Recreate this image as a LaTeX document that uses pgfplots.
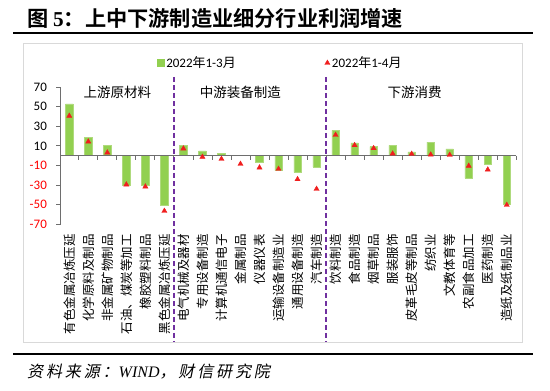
\documentclass[border=0pt]{standalone}
\usepackage{pgfplots}
\pgfplotsset{compat=1.18}
\usepackage{fontspec}
\setmainfont{Carlito}
\newfontfamily\cjk{Noto Sans CJK SC}
\newfontfamily\cjkb{Noto Sans CJK SC Bold}
\newfontfamily\cjkit{Noto Sans CJK SC}[FakeSlant=0.2,LetterSpace=18]
\newfontfamily\tnr{Liberation Serif}
\definecolor{barg}{RGB}{146,208,80}
\definecolor{bare}{RGB}{175,218,125}
\definecolor{tri}{RGB}{240,30,30}
\definecolor{purp}{RGB}{112,48,160}
\definecolor{axc}{RGB}{110,110,110}
\definecolor{frm}{RGB}{217,217,217}
\begin{document}
\begin{tikzpicture}[x=1pt,y=1pt]
\useasboundingbox (0,0) rectangle (550,391);
\node[anchor=west,inner sep=0] at (27,373) {\fontsize{21.2}{24}\selectfont\cjkb 图 {\tnr\bfseries 5}：上中下游制造业细分行业利润增速};
\draw[line width=2pt] (13,357.7) -- (533,357.7);
\draw[frm, line width=0.8pt] (23,348) rectangle (522,49);
\draw[line width=2pt] (13,37) -- (533,37);
\node[anchor=west,inner sep=0] at (27,19.3) {\fontsize{16}{18}\selectfont\cjkit 资料来源：{\tnr\itshape WIND}，财信研究院};
\begin{axis}[
  at={(60.9pt,166.7pt)}, anchor=south west, scale only axis,
  width=455.4pt, height=137.3pt,
  xmin=-0.44, xmax=23.5, ymin=-70, ymax=70,
  axis y line*=left, axis x line*=bottom,
  x axis line style={draw=none},
  y axis line style={axc, line width=0.8pt},
  tick align=outside, major tick length=4.5pt,
  ytick={-70,-50,...,70},
  yticklabels={{\color{red}-70},{\color{red}-50},{\color{red}-30},{\color{red}-10},10,30,50,70},
  ytick style={axc, line width=0.8pt},
  yticklabel style={font=\fontsize{13}{15}\selectfont},
  yticklabel shift=6pt,
  xtick={0,...,23},
  xticklabels={有色金属冶炼压延,化学原料及制品,非金属矿物制品,石油、煤炭等加工,橡胶塑料制品,黑色金属冶炼压延,电气机械及器材,专用设备制造,计算机通信电子,金属制品,仪器仪表,运输设备制造业,通用设备制造,汽车制造,饮料制造,食品制造,烟草制品,服装服饰,皮革毛皮等制品,纺织业,文教体育等,农副食品加工,医药制造,造纸及纸制品业},
  x tick style={draw=none},
  xticklabel style={rotate=90, anchor=east, font=\cjk\fontsize{12.5}{13}\selectfont},
  xticklabel shift=2pt,
  /pgf/number format/assume math mode=true,
  clip=false,
  legend style={at={(0.482,1.175)}, anchor=center, draw=none, fill=none, legend columns=2,
    font=\fontsize{13}{15}\selectfont,
    /tikz/every even column/.append style={column sep=87pt}},
]
\addplot[ybar, bar width=7.5pt, fill=barg, draw=bare, line width=0.5pt,
  legend image code/.code={\fill[barg] (0pt,-3pt) rectangle (6.5pt,3.5pt);}]
coordinates {(0,52.8) (1,18.4) (2,10.6) (3,-29.9) (4,-30) (5,-50.3) (6,10.2) (7,4.8) (8,2.7) (9,0) (10,-7.1) (11,-15.3) (12,-17) (13,-11.5) (14,25.9) (15,13) (16,9.2) (17,10.6) (18,3.8) (19,13.7) (20,6.8) (21,-23) (22,-8.8) (23,-49.6)};
\addlegendentry{2022{\cjk 年}1-3{\cjk 月}}
\addplot[only marks, mark=triangle*, mark size=3pt, color=tri]
coordinates {(0,40.5) (1,14.3) (2,3.1) (3,-29.5) (4,-31.6) (5,-56.4) (6,7.2) (7,-1.3) (8,-3.4) (9,-8.5) (10,-12.2) (11,-13.6) (12,-24.1) (13,-34) (14,21.1) (15,10.6) (16,7.5) (17,2) (18,1.7) (19,1) (20,0.7) (21,-10.5) (22,-14.3) (23,-50.3)};
\addlegendentry{2022{\cjk 年}1-4{\cjk 月}}
\draw[axc, line width=0.8pt] (axis cs:-0.44,0) -- (axis cs:23.5,0);
\pgfplotsinvokeforeach{0.5,1.5,...,23.5}{\draw[axc, line width=0.8pt] (axis cs:#1,0) -- ++(0pt,-4.5pt);}
\draw[purp, line width=1.6pt, dash pattern=on 5pt off 3pt] (axis cs:5.5,80.3) -- (axis cs:5.5,-190);
\draw[purp, line width=1.6pt, dash pattern=on 5pt off 3pt] (axis cs:13.5,80.3) -- (axis cs:13.5,-190);
\node[font=\cjk\fontsize{13.5}{15}\selectfont] at (axis cs:2.53,65) {上游原材料};
\node[font=\cjk\fontsize{13.5}{15}\selectfont] at (axis cs:9.0,65) {中游装备制造};
\node[font=\cjk\fontsize{13.5}{15}\selectfont] at (axis cs:18.15,64.5) {下游消费};
\end{axis}
\end{tikzpicture}
\end{document}
